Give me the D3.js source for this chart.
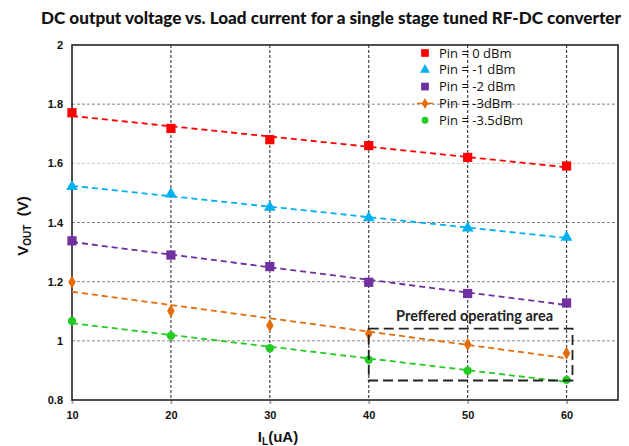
<!DOCTYPE html>
<html>
<head>
<meta charset="utf-8">
<script src="https://cdn.jsdelivr.net/npm/d3@7"></script>
<style>
  body { margin: 0; background: #fff; }
  svg { display: block; }
</style>
</head>
<body>
<div id="chart"></div>
<script>
const WIDTH = 629;
const HEIGHT = 446;

const MARGIN = { TOP: 45, RIGHT: 11, BOTTOM: 46, LEFT: 72 };

// data
const loadCurrent = [10, 20, 30, 40, 50, 60];
const pin0 = [1.771, 1.718, 1.680, 1.660, 1.620, 1.591];
const pin1 = [1.521, 1.496, 1.451, 1.416, 1.381, 1.350];
const pin2 = [1.338, 1.290, 1.251, 1.198, 1.160, 1.128];
const pin3 = [1.199, 1.101, 1.052, 1.024, 0.988, 0.958];
const pin35 = [1.067, 1.017, 0.975, 0.936, 0.899, 0.868];
const seriesNames = ["Pin = 0 dBm", "Pin = -1 dBm", "Pin = -2 dBm", "Pin = -3dBm", "Pin = -3.5dBm"];
const xTicks = [10, 20, 30, 40, 50, 60];
const yTicks = [0.8, 1, 1.2, 1.4, 1.6, 1.8, 2];
const areaX = [40, 60.6];
const areaY = [0.866, 1.041];

const colors = ["#ff0000", "#00b0f0", "#7030a0", "#e46c0a", "#22cc22"];
const shapes = [d3.symbolSquare, d3.symbolTriangle, d3.symbolSquare, d3.symbolDiamond, d3.symbolCircle];
const sizes = [85, 60, 85, 50, 55];
const allSeries = [pin0, pin1, pin2, pin3, pin35];

const svg = d3
  .select("#chart")
  .append("svg")
  .attr("width", WIDTH)
  .attr("height", HEIGHT);

const W = WIDTH - MARGIN.LEFT - MARGIN.RIGHT;
const H = HEIGHT - MARGIN.TOP - MARGIN.BOTTOM;

const g = svg.append("g").attr("transform", `translate(${MARGIN.LEFT}, ${MARGIN.TOP})`);

const x = d3.scaleLinear().domain([10, 65.2]).range([0, W]);
const y = d3.scaleLinear().domain([0.8, 2]).range([H, 0]);

svg.append("text")
  .attr("x", 331)
  .attr("y", 24)
  .attr("text-anchor", "middle")
  .attr("font-family", "Lato, 'Open Sans', sans-serif")
  .attr("font-weight", "900")
  .attr("font-size", "17px")
  .attr("textLength", 580)
  .attr("lengthAdjust", "spacingAndGlyphs")
  .style("fill", "#111")
  .text("DC output voltage vs. Load current for a single stage tuned RF-DC converter");

// horizontal grid
g.append("g")
  .selectAll("line")
  .data(yTicks.filter((d) => d > 0.8 && d < 2))
  .enter()
  .append("line")
  .attr("x1", 0)
  .attr("x2", W)
  .attr("y1", (d) => y(d))
  .attr("y2", (d) => y(d))
  .style("stroke", (d) => (d === 1.6 ? "#c8c8c8" : "#888"))
  .style("stroke-width", 1)
  .style("stroke-dasharray", "3,2");

// vertical grid
g.append("g")
  .selectAll("line")
  .data(xTicks.filter((d) => d > 10))
  .enter()
  .append("line")
  .attr("x1", (d) => x(d))
  .attr("x2", (d) => x(d))
  .attr("y1", 0)
  .attr("y2", H)
  .style("stroke", "#444")
  .style("stroke-width", 1.2)
  .style("stroke-dasharray", "3,2");

// axes
const xAxis = g.append("g")
  .attr("transform", `translate(0, ${H})`)
  .call(d3.axisBottom(x).tickValues(xTicks).tickSize(4).tickFormat(d3.format("d")))
  .call((a) => a.select(".domain").remove());
xAxis.selectAll("line").style("stroke", "#aaa").style("stroke-width", 2);
xAxis.selectAll("text")
  .attr("dy", "1.1em")
  .style("font-family", "Arial, 'Liberation Sans', sans-serif")
  .style("font-weight", "bold")
  .style("font-size", "11px")
  .style("fill", "#111");

const yAxis = g.append("g")
  .call(d3.axisLeft(y).tickValues(yTicks).tickSize(0).tickPadding(9).tickFormat((d) => String(+d.toFixed(1))))
  .call((a) => a.select(".domain").remove());
yAxis.selectAll("text")
  .style("font-family", "Arial, 'Liberation Sans', sans-serif")
  .style("font-weight", "bold")
  .style("font-size", "11px")
  .style("fill", "#111");

// frame
g.append("rect")
  .attr("x", 0)
  .attr("y", 0)
  .attr("width", W)
  .attr("height", H)
  .style("fill", "none")
  .style("stroke", "#222")
  .style("stroke-width", 1.6);

// axis titles
const yLabel = svg.append("text")
  .attr("transform", "translate(28, 226) rotate(-90)")
  .attr("text-anchor", "middle")
  .attr("font-family", "Arial, 'Liberation Sans', sans-serif")
  .attr("font-weight", "bold")
  .attr("font-size", "15px")
  .style("fill", "#111");
yLabel.append("tspan").text("V");
yLabel.append("tspan").attr("font-size", "10px").attr("dy", 3).text("OUT");
yLabel.append("tspan").attr("dy", -3).text("\u00a0\u00a0(V)");

const xLabel = svg.append("text")
  .attr("x", 278)
  .attr("y", 442)
  .attr("text-anchor", "middle")
  .attr("font-family", "Arial, 'Liberation Sans', sans-serif")
  .attr("font-weight", "bold")
  .attr("font-size", "15px")
  .style("fill", "#111");
xLabel.append("tspan").text("I");
xLabel.append("tspan").attr("font-size", "10px").attr("dy", 3).text("L");
xLabel.append("tspan").attr("dy", -3).text("(uA)");

// linear trendlines + markers
allSeries.forEach((vals, i) => {
  const pts = loadCurrent.map((c, k) => [c, vals[k]]);
  const mx = d3.mean(loadCurrent);
  const my = d3.mean(vals);
  const slope = d3.sum(pts, (p) => (p[0] - mx) * (p[1] - my)) / d3.sum(pts, (p) => (p[0] - mx) ** 2);
  const icpt = my - slope * mx;
  const x0 = d3.min(loadCurrent);
  const x1 = d3.max(loadCurrent);

  g.append("line")
    .attr("x1", x(x0))
    .attr("y1", y(icpt + slope * x0))
    .attr("x2", x(x1))
    .attr("y2", y(icpt + slope * x1))
    .style("stroke", colors[i])
    .style("stroke-width", 1.8)
    .style("stroke-dasharray", "6,4");

  g.append("g")
    .selectAll("path")
    .data(pts)
    .enter()
    .append("path")
    .attr("transform", (d) => `translate(${x(d[0])}, ${y(d[1])})`)
    .attr("d", d3.symbol().type(shapes[i]).size(sizes[i]))
    .style("fill", colors[i]);
});

// preferred operating area
g.append("rect")
  .attr("x", x(areaX[0]))
  .attr("y", y(areaY[1]))
  .attr("width", x(areaX[1]) - x(areaX[0]))
  .attr("height", y(areaY[0]) - y(areaY[1]))
  .style("fill", "none")
  .style("stroke", "#222")
  .style("stroke-width", 1.8)
  .style("stroke-dasharray", "10,5");

g.append("text")
  .attr("x", (x(areaX[0]) + x(areaX[1])) / 2 + 4)
  .attr("y", y(areaY[1]) - 8)
  .attr("text-anchor", "middle")
  .attr("font-family", "Lato, 'Open Sans', sans-serif")
  .attr("font-weight", "bold")
  .attr("font-size", "14.5px")
  .style("fill", "#222")
  .text("Preffered operating area");

// legend
const legend = svg.append("g").attr("transform", "translate(425, 53)");
seriesNames.forEach((name, i) => {
  const row = legend.append("g").attr("transform", `translate(0, ${i * 16.8})`);
  if (i === 3) {
    row.append("line")
      .attr("x1", -8)
      .attr("x2", 8)
      .style("stroke", colors[i])
      .style("stroke-width", 1.5);
  }
  row.append("path")
    .attr("d", d3.symbol().type(shapes[i]).size(sizes[i] * 0.7))
    .style("fill", colors[i]);
  row.append("text")
    .attr("x", 14)
    .attr("y", 4.5)
    .attr("font-family", "'Open Sans', Lato, sans-serif")
    .attr("font-size", "13px")
    .style("fill", "#111")
    .text(name);
});
</script>
</body>
</html>
